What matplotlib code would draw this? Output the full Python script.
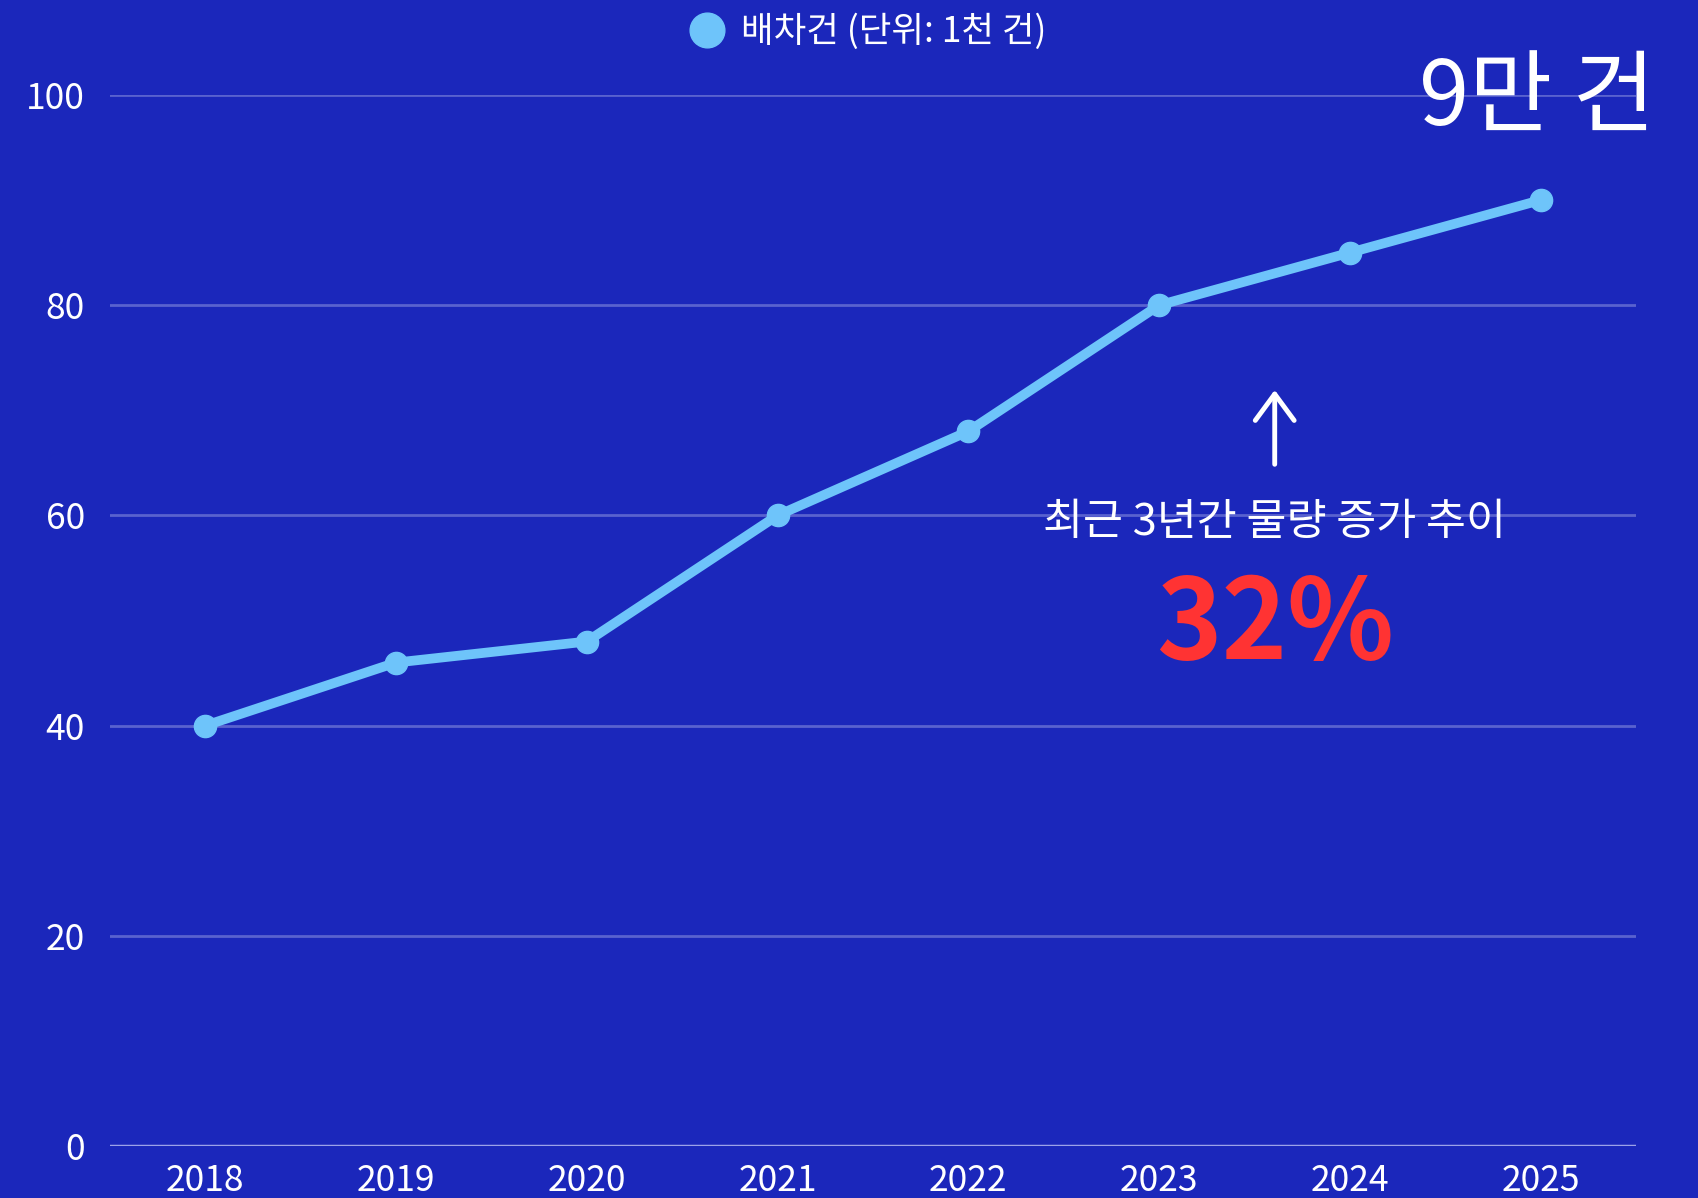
import matplotlib
matplotlib.use("Agg")
import matplotlib.pyplot as plt

plt.rcParams['font.family'] = ['Noto Sans CJK KR', 'DejaVu Sans']

years = ['2018', '2019', '2020', '2021', '2022', '2023', '2024', '2025']
values = [40, 46, 48, 60, 68, 80, 85, 90]
yticks = [0, 20, 40, 60, 80, 100]
legend_label = '배차건 (단위: 1천 건)'
headline = '9만 건'
note = '최근 3년간 물량 증가 추이'
pct = '32%'

BG = '#1b27bb'
LINE = '#6ec4fa'

fig = plt.figure(figsize=(16.99, 11.98), dpi=100, facecolor=BG)
ax = fig.add_axes([110 / 1699, 1 - 1146 / 1198, (1636 - 110) / 1699, (1146 - 95) / 1198])
ax.set_facecolor(BG)

x = list(range(len(years)))
ax.plot(x, values, color=LINE, lw=7, marker='o', ms=16, mfc=LINE, mec=LINE,
        label=legend_label, zorder=3, solid_capstyle='round')

ax.set_xlim(-0.5, len(years) - 0.5)
ax.set_ylim(0, 100)
ax.set_yticks(yticks)
ax.set_xticks(x)
ax.set_xticklabels(years)
for s in ax.spines.values():
    s.set_visible(False)
ax.tick_params(axis='both', length=0, colors='white', labelsize=25.5)
ax.tick_params(axis='y', pad=18)
ax.tick_params(axis='x', pad=12)
for yv in yticks[1:]:
    ax.axhline(yv, color='#5962cf', lw=2, zorder=1)
ax.axhline(0, color='#9ca2e8', lw=2.5, zorder=1)

leg = ax.legend(loc='center', bbox_to_anchor=(0.497, 1.060), frameon=False,
                fontsize=25.5, labelcolor='white', handlelength=0.9, handletextpad=0.5,
                borderaxespad=0.0, borderpad=0.0)
for h in leg.legend_handles:
    h.set_linestyle('none')
    h.set_markersize(25)

ax.text(7.6, 97.2, headline, ha='right', va='baseline', color='white',
        fontsize=65, fontweight='normal', clip_on=False)

ax.annotate('', xy=(5.606, 72.2), xytext=(5.606, 64.6),
            arrowprops=dict(arrowstyle='->,head_length=0.95,head_width=0.7',
                            mutation_scale=20, color='white', lw=3.5,
                            capstyle='round', joinstyle='round'))
ax.text(5.606, 59.3, note, ha='center', va='center', color='white', fontsize=31.3)
ax.text(5.606, 49.4, pct, ha='center', va='center', color='#ff3333', fontsize=80,
        fontweight='black')

fig.savefig('out.png', dpi=100, facecolor=BG)
